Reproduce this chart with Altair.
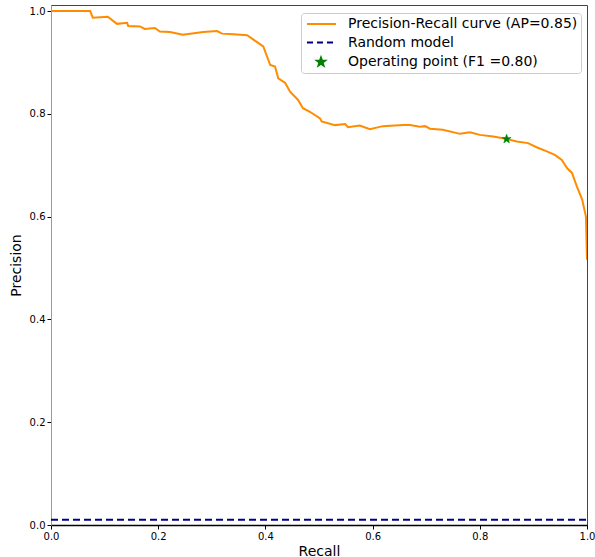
import altair as alt
import pandas as pd
import numpy as np

recall = [0.0, 0.073, 0.078, 0.106, 0.123, 0.142, 0.144, 0.166, 0.175, 0.194, 0.203,
          0.222, 0.246, 0.284, 0.31, 0.319, 0.34, 0.366, 0.381, 0.396, 0.409, 0.418,
          0.424, 0.437, 0.446, 0.461, 0.47, 0.483, 0.502, 0.505, 0.53, 0.549, 0.554,
          0.576, 0.595, 0.619, 0.657, 0.67, 0.688, 0.698, 0.707, 0.731, 0.763, 0.782,
          0.8, 0.825, 0.851, 0.869, 0.89, 0.906, 0.925, 0.94, 0.953, 0.963, 0.972,
          0.981, 0.991, 0.998, 1.0]
precision = [1.0, 1.0, 0.987, 0.989, 0.975, 0.977, 0.971, 0.97, 0.965, 0.967, 0.96,
             0.959, 0.954, 0.959, 0.961, 0.956, 0.955, 0.953, 0.942, 0.931, 0.895, 0.892,
             0.869, 0.86, 0.843, 0.827, 0.811, 0.804, 0.791, 0.785, 0.778, 0.78, 0.774,
             0.777, 0.77, 0.776, 0.778, 0.778, 0.775, 0.776, 0.771, 0.769, 0.761, 0.764,
             0.759, 0.756, 0.751, 0.746, 0.743, 0.735, 0.727, 0.72, 0.71, 0.694, 0.685,
             0.659, 0.633, 0.6, 0.516]
random_level = [0.01]
op_recall = [0.85]
op_precision = [0.751]
series_names = ["Precision-Recall curve (AP=0.85)", "Random model", "Operating point (F1 =0.80)"]
series_colors = ["#ff8c00", "#000080", "#008000"]

curve = pd.DataFrame({"recall": recall, "precision": precision, "i": range(len(recall))})
rand = pd.DataFrame({"x0": [0.0], "x1": [1.0], "y": random_level})
op = pd.DataFrame({"recall": op_recall, "precision": op_precision, "series": [series_names[2]]})


def star_path(r_out, r_in, dx=0.0):
    pts = []
    for k in range(10):
        a = np.deg2rad(-90 + 36 * k)
        r = r_out if k % 2 == 0 else r_in
        pts.append((dx + r * np.cos(a), r * np.sin(a)))
    return "M" + "L".join(f"{x:.3f},{y:.3f}" for x, y in pts) + "Z"

S = 7.0  # legend unit scale (symbolSize 196 -> 14 px)
line_path = f"M{-5/S:.3f},0L{24/S:.3f},0"
legend_star = star_path(4.2 / S, 1.7 / S, dx=9 / S)

xs = alt.Scale(domain=[0, 1], nice=False, zero=False)
ys = alt.Scale(domain=[0, 1.0117], nice=False, zero=False)
xax = alt.Axis(values=[0, 0.2, 0.4, 0.6, 0.8, 1.0], format=".1f", title="Recall", grid=False,
               labelFlush=False, domainColor="black", domainWidth=1.5)
yax = alt.Axis(values=[0, 0.2, 0.4, 0.6, 0.8, 1.0], format=".1f", title="Precision", grid=False,
               labelFlush=False, domainColor="#999999")

line = alt.Chart(curve).mark_line(color="#ff8c00", strokeWidth=2, clip=True).encode(
    x=alt.X("recall:Q", scale=xs, axis=xax),
    y=alt.Y("precision:Q", scale=ys, axis=yax),
    order="i:Q",
)

rline = alt.Chart(rand).mark_rule(color="#000080", strokeWidth=2, strokeDash=[7, 4]).encode(
    x=alt.X("x0:Q", scale=xs), x2="x1:Q", y=alt.Y("y:Q", scale=ys)
)

star = alt.Chart(op).mark_point(
    shape=star_path(0.32, 0.13), size=900, filled=True, color="#008000", opacity=1, strokeWidth=0.5,
    stroke="#008000"
).encode(x=alt.X("recall:Q", scale=xs), y=alt.Y("precision:Q", scale=ys))

leg_scale_domain = series_names
legend = alt.Legend(
    title=None, orient="none", legendX=250, legendY=8, labelFontSize=14, labelFont="DejaVu Sans",
    labelColor="black", symbolSize=196, symbolStrokeWidth=2, labelOffset=28, padding=3,
    rowPadding=3.5, strokeColor="#cccccc", fillColor="white", cornerRadius=3, labelLimit=400,
)
leg = alt.Chart(op).transform_filter("false").mark_point(filled=True, opacity=1).encode(
    x=alt.X("recall:Q", scale=xs),
    y=alt.Y("precision:Q", scale=ys),
    fill=alt.Fill("series:N", scale=alt.Scale(domain=leg_scale_domain, range=series_colors), legend=legend),
    stroke=alt.Stroke("series:N", scale=alt.Scale(domain=leg_scale_domain, range=series_colors), legend=legend),
    shape=alt.Shape("series:N", scale=alt.Scale(domain=leg_scale_domain, range=[line_path, line_path, legend_star]), legend=legend),
    strokeDash=alt.StrokeDash("series:N", scale=alt.Scale(domain=leg_scale_domain, range=[[1, 0], [6, 4], [1, 0]]), legend=legend),
)

chart = alt.layer(line, rline, star, leg).properties(
    width=536, height=520,
    autosize=alt.AutoSizeParams(type="none"),
    padding={"left": 51, "top": 5, "right": 8, "bottom": 32},
).configure_axis(
    labelFont="DejaVu Sans", labelFontSize=10, labelColor="black", titleFont="DejaVu Sans",
    titleFontSize=14, titleFontWeight="normal", titleColor="black", tickColor="black",
    tickSize=4, labelPadding=2,
).configure_axisX(titlePadding=3).configure_axisY(titlePadding=6).configure_view(
    stroke="#444444", strokeWidth=1
)

chart.save("out.html", embed_options={"renderer": "svg", "actions": False})
